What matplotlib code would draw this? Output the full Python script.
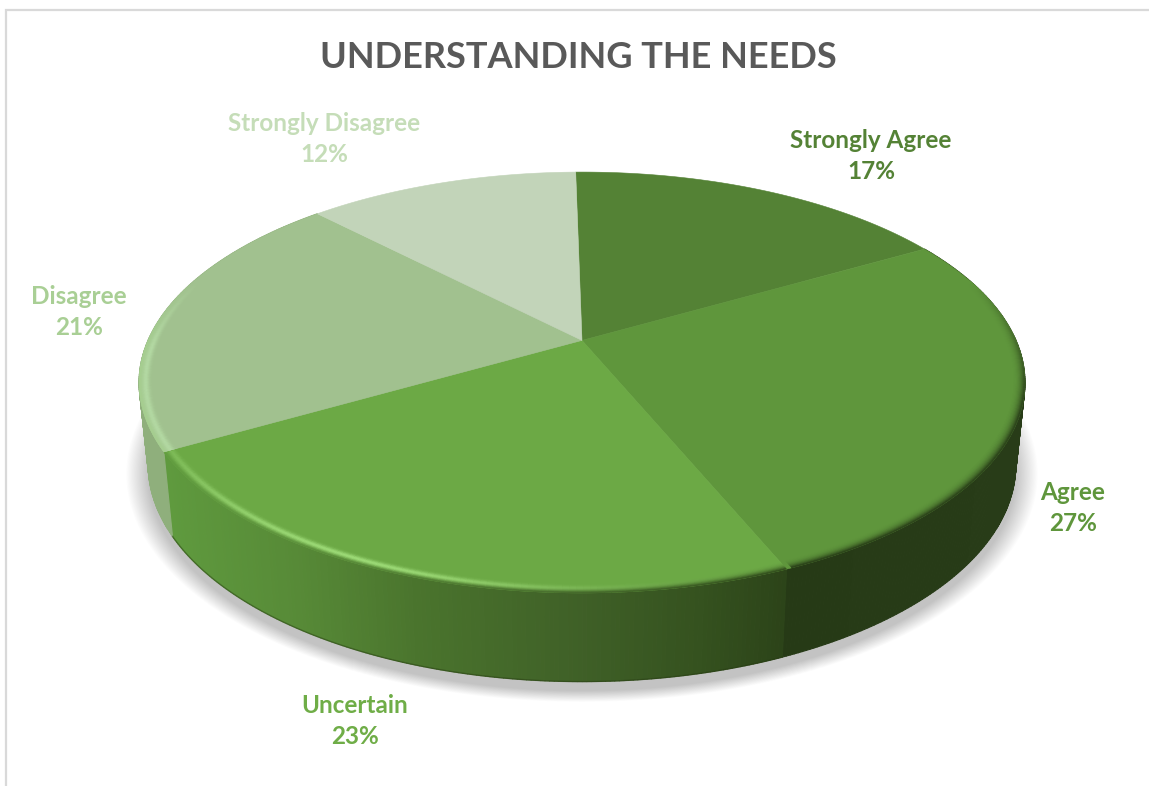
import numpy as np
import matplotlib
matplotlib.use("Agg")
import matplotlib.pyplot as plt
from matplotlib.collections import PolyCollection
from matplotlib.colors import to_rgb

categories = ["Strongly Agree", "Agree", "Uncertain", "Disagree", "Strongly Disagree"]
percents = [17, 27, 23, 21, 12]

face_colors = ["#548235", "#5F963C", "#6CA945", "#A1C18F", "#C2D4B9"]
text_colors = ["#548235", "#5F963C", "#6FAD47", "#A9CF95", "#C5DDB8"]
label_pos = [(871, 156), (1073, 508), (355, 721), (79, 312), (324, 139)]

# side wall colours along screen x, for the three slices that show a wall
wall_stops = {
    1: ([793, 1030], ["#263A16", "#283C18"]),
    2: ([170, 300, 420, 582, 700, 795], ["#5F9A3E", "#578A37", "#4A742D", "#3F6027", "#35521F", "#2B4218"]),
    3: ([130, 180], ["#8FAF7C", "#8FAF7C"]),
}
# rim highlight colour and strength per slice
rim_light = {1: "#5F963C", 2: "#9EDC78", 3: "#B8DFA8"}

plt.rcParams["font.family"] = ["Lato", "DejaVu Sans"]

W, H = 1149, 786
fig = plt.figure(figsize=(W / 100, H / 100), dpi=100)
ax = fig.add_axes([0, 0, 1, 1])
ax.set_xlim(0, W)
ax.set_ylim(H, 0)
ax.axis("off")

# chart area border, only top and left are inside the crop
ax.plot([6, 6, W], [H, 10, 10], color="#D9D9D9", lw=1.6, solid_joinstyle="miter")

# disc projection: k is the perspective, front gets bigger than back
K = 0.2
START = -1.0
TOP = dict(cx=582, cy=340.4, a=434, b=202)
BOT = dict(cx=582, cy=421.6, a=425, b=208)


def project(deg, disc, r=1.0):
    t = np.radians(deg)
    x = r * np.sin(t)
    y = r * np.cos(t)
    d = 1 + K * y
    return disc["cx"] + disc["a"] * x / d, disc["cy"] - disc["b"] * y / d


def wall_color(i, x):
    xs, cols = wall_stops[i]
    rgb = np.array([to_rgb(c) for c in cols])
    return np.array([np.interp(x, xs, rgb[:, j]) for j in range(3)])


edges = START + np.cumsum([0] + percents) * 3.6

# soft shadow under the disc
for s in np.linspace(1.05, 1.0, 20):
    tt = np.linspace(0, 360, 240)
    sx = 582 + 434 * s * np.sin(np.radians(tt))
    sy = 474 + 217 * s * np.cos(np.radians(tt))
    ax.fill(sx, sy, color="black", alpha=0.011, lw=0, zorder=1)

# side walls, built from thin quads so the colour can run along x
quads, cols = [], []
for i in wall_stops:
    tt = np.linspace(edges[i], edges[i + 1], int((edges[i + 1] - edges[i]) * 2) + 1)
    for t0, t1 in zip(tt[:-1], tt[1:]):
        x0, y0 = project(t0, TOP)
        x1, y1 = project(t1, TOP)
        x2, y2 = project(t1, BOT)
        x3, y3 = project(t0, BOT)
        quads.append([(x0, y0), (x1, y1), (x2, y2), (x3, y3)])
        cols.append(wall_color(i, (x0 + x3) / 2))
ax.add_collection(PolyCollection(quads, facecolors=cols, edgecolors=cols, linewidths=0.8, zorder=2))

# thin dark line along the bottom of the uncertain wall
tt = np.linspace(edges[2], edges[3], 120)
bx, by = project(tt, BOT)
ax.plot(bx, by, color="#24380F", lw=1.0, alpha=0.45, zorder=3)

# top face
for i, color in enumerate(face_colors):
    tt = np.linspace(edges[i], edges[i + 1], 120)
    px, py = project(tt, TOP)
    ax.fill(np.r_[TOP["cx"], px], np.r_[TOP["cy"], py], color=color, lw=0.4, zorder=4)


def rim_strength(i, deg):
    if i == 2:
        sig = 18.0 if deg < 205 else 25.0
        return np.exp(-((deg - 205) / sig) ** 2 / 2)
    if i == 3:
        return 0.8
    return 0.0


# bevel along the front of the top face
radii = np.linspace(0.972, 1.0, 13)
quads, cols = [], []
for i in wall_stops:
    start = max(edges[i], 72)
    stop = min(edges[i + 1], 288)
    tt = np.arange(start, stop + 0.01, 0.75)
    face = np.array(to_rgb(face_colors[i]))
    light = np.array(to_rgb(rim_light[i]))
    for t0, t1 in zip(tt[:-1], tt[1:]):
        # bevel dies out towards the back of the disc
        fade = np.clip((t0 - 72) / 35, 0, 1) * np.clip((288 - t0) / 20, 0, 1)
        for r0, r1 in zip(radii[:-1], radii[1:]):
            x0, y0 = project(t0, TOP, r0)
            x1, y1 = project(t1, TOP, r0)
            x2, y2 = project(t1, TOP, r1)
            x3, y3 = project(t0, TOP, r1)
            quads.append([(x0, y0), (x1, y1), (x2, y2), (x3, y3)])
            u = ((r0 + r1) / 2 - radii[0]) / (1 - radii[0])
            edge = wall_color(i, (x0 + x3) / 2)
            if i == 3:
                edge = np.array(to_rgb("#A5D08F"))
            c = face + (edge - face) * (u ** 2.5) * fade
            h = rim_strength(i, t0) * np.exp(-((u - 0.5) / 0.28) ** 2) * fade
            c = c + (light - c) * h
            cols.append(c)
ax.add_collection(PolyCollection(quads, facecolors=cols, edgecolors=cols, linewidths=0.4, zorder=5))

ax.text(578.5, 58, "UNDERSTANDING THE NEEDS", ha="center", va="center",
        fontsize=26, fontweight="bold", color="#595959")

for name, pct, color, (lx, ly) in zip(categories, percents, text_colors, label_pos):
    ax.text(lx, ly, f"{name}\n{pct}%", ha="center", va="center", fontsize=17.5,
            fontweight="bold", color=color, linespacing=1.42, zorder=6)

fig.savefig("out.png", dpi=100, facecolor="white")
